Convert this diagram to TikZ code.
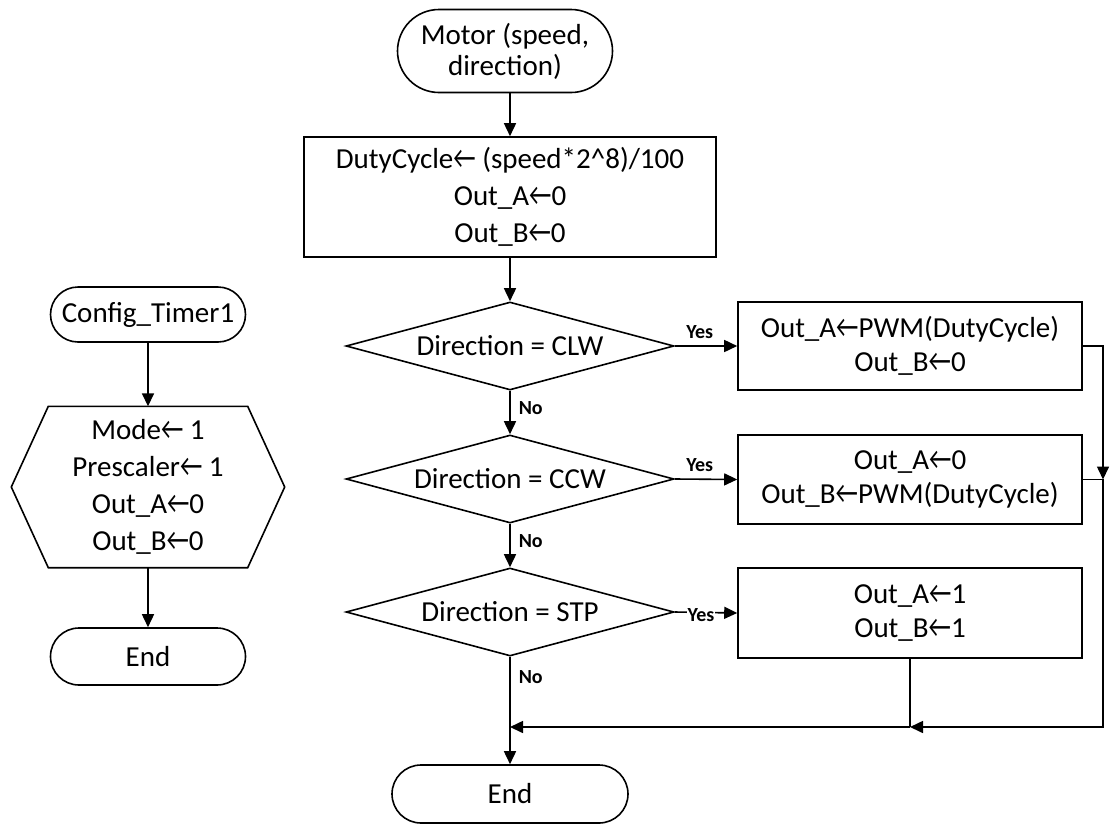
\documentclass[tikz,border=0pt]{standalone}
\usepackage{fontspec}
\setmainfont{Carlito}
\usetikzlibrary{shapes.geometric,shapes.misc,arrows.meta,calc}
% assignment arrow used in the process boxes
\newcommand\assign{\scalebox{0.85}[1.1]{←}}

\begin{document}
\begin{tikzpicture}[x=1pt,y=-1pt,
  every node/.style={font=\fontsize{29}{34}\selectfont, text=black},
  wire/.style={draw=black, line width=1.6pt},
  flowarrow/.style={wire, -{Triangle[length=13pt,width=12pt]}},
  term/.style={rounded rectangle, wire, fill=white, inner sep=0pt, align=center},
  proc/.style={rectangle, wire, fill=white, inner sep=0pt, align=center},
  decide/.style={diamond, wire, fill=white, aspect=3.7, inner sep=0pt,
                 minimum width=328pt, minimum height=88pt},
  tag/.style={font=\bfseries\fontsize{20}{23}\selectfont, inner sep=2pt},
]
\useasboundingbox (0,0) rectangle (1111,825);

% ---- motor routine ----
\node[term, minimum width=215pt, minimum height=83pt,
      font=\fontsize{29}{31}\selectfont] (motor) at (505,51) {Motor (speed,\\direction)};
\node[proc, minimum width=412pt, minimum height=120pt,
      font=\fontsize{29}{37}\selectfont] (init) at (510,197)
      {DutyCycle\assign{} (speed*2\textasciicircum 8)/100\\Out\_A\assign 0\\Out\_B\assign 0};
\node[decide] (d1) at (510,346) {Direction = CLW};
\node[decide] (d2) at (510,479) {Direction = CCW};
\node[decide] (d3) at (510,612) {Direction = STP};
\node[proc, minimum width=344pt, minimum height=88pt] (b1) at (910,346)
      {Out\_A\assign PWM(DutyCycle)\\Out\_B\assign 0};
\node[proc, minimum width=344pt, minimum height=89pt] (b2) at (910,479.5)
      {Out\_A\assign 0\\Out\_B\assign PWM(DutyCycle)};
\node[proc, minimum width=344pt, minimum height=90pt] (b3) at (910,613)
      {Out\_A\assign 1\\Out\_B\assign 1};
\node[term, minimum width=236pt, minimum height=58pt] (endR) at (510,794) {End};

% ---- timer set-up routine ----
\node[term, minimum width=195pt, minimum height=55pt] (cfg) at (148,314.5) {Config\_Timer1};
\node[inner sep=0pt, minimum width=273pt, minimum height=161pt, align=center,
      font=\fontsize{29}{37}\selectfont] (setup) at (148,487)
      {Mode\assign{} 1\\Prescaler\assign{} 1\\Out\_A\assign 0\\Out\_B\assign 0};
\draw[wire, line join=miter]
      ($(setup.north west)+(37,0)$) -- ($(setup.north east)+(-37,0)$) -- (setup.east)
   -- ($(setup.south east)+(-37,0)$) -- ($(setup.south west)+(37,0)$) -- (setup.west) -- cycle;
\node[term, minimum width=195pt, minimum height=57pt] (endL) at (148,656.5) {End};

\draw[flowarrow] (cfg.south) -- (setup.north);
\draw[flowarrow] (setup.south) -- (endL.north);

% ---- connectors ----
\coordinate (rail) at (1103,0);
\coordinate (mrg) at (0,727);

\draw[flowarrow] (init.north |- motor.south) -- (init.north);
\draw[flowarrow] (init.south) -- (d1.north);
\draw[flowarrow] (d1.east) -- node[tag, above=5pt, pos=0.4] {Yes} (b1.west);
\draw[flowarrow] (d1.south) -- node[tag, right, pos=0.4, xshift=6pt] {No} (d2.north);
\draw[flowarrow] (d2.east) -- node[tag, above=5pt, pos=0.4] {Yes} (b2.west);
\draw[flowarrow] (d2.south) -- node[tag, right, pos=0.4, xshift=6pt] {No} (d3.north);
\draw[flowarrow] (d3.east) -- node[tag, fill=white, inner sep=1pt, pos=0.42, yshift=-3pt] {Yes} (b3.west);
\draw[flowarrow] (d3.south) -- node[tag, right, pos=0.19, xshift=6pt] {No} (endR.north);

\draw[flowarrow] (b1.east) -- (b1.east -| rail) -- (b2.east -| rail);
\draw[flowarrow] (b2.east) -- (b2.east -| rail) -- (rail |- mrg) -- (b3.south |- mrg);
\draw[wire] (b3.south) -- (b3.south |- mrg);
\draw[flowarrow] (b3.south |- mrg) -- (d3.south |- mrg);
\end{tikzpicture}
\end{document}
